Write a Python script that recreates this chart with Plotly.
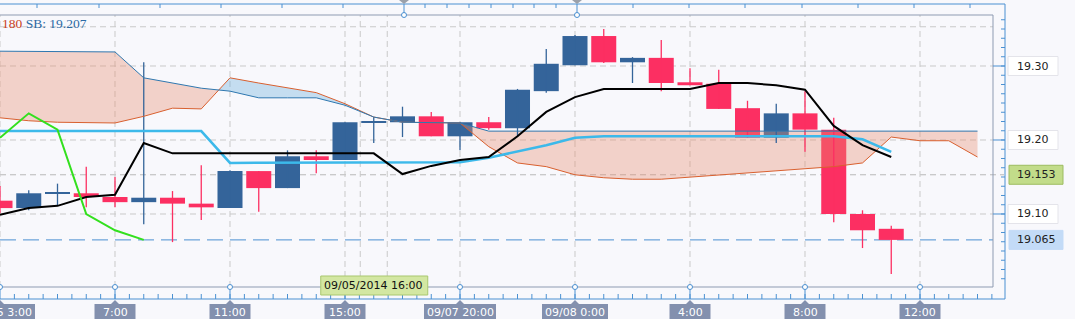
import plotly.graph_objects as go

# ---------------- data (hourly candles, index 0 = 09/05 3:00) ----------------
candle_idx = list(range(32))
open_ = [19.118, 19.108, 19.128, 19.128, 19.123, 19.116, 19.122, 19.114, 19.108, 19.158,
         19.135, 19.178, 19.173, 19.224, 19.224, 19.232, 19.205, 19.224, 19.216, 19.266,
         19.301, 19.3405, 19.305, 19.311, 19.278, 19.276, 19.243, 19.203, 19.236, 19.214,
         19.100, 19.080]
high = [19.138, 19.132, 19.141, 19.164, 19.150, 19.305, 19.131, 19.166, 19.159, 19.158,
        19.186, 19.186, 19.224, 19.231, 19.245, 19.238, 19.224, 19.231, 19.269, 19.323,
        19.342, 19.350, 19.312, 19.335, 19.297, 19.295, 19.253, 19.249, 19.266, 19.230,
        19.105, 19.084]
low = [19.101, 19.105, 19.112, 19.109, 19.109, 19.086, 19.062, 19.092, 19.108, 19.103,
       19.135, 19.155, 19.173, 19.196, 19.204, 19.205, 19.186, 19.214, 19.204, 19.264,
       19.301, 19.304, 19.277, 19.266, 19.274, 19.242, 19.203, 19.196, 19.184, 19.089,
       19.054, 19.019]
close = [19.108, 19.128, 19.128, 19.123, 19.116, 19.122, 19.114, 19.109, 19.158, 19.135,
         19.178, 19.173, 19.224, 19.224, 19.232, 19.205, 19.224, 19.216, 19.268, 19.303,
         19.3405, 19.305, 19.311, 19.277, 19.274, 19.242, 19.203, 19.236, 19.214, 19.100,
         19.078, 19.065]

tenkan = [19.099, 19.108, 19.111, 19.123, 19.126, 19.196, 19.182, 19.182, 19.182, 19.182,
          19.182, 19.182, 19.182, 19.182, 19.154, 19.165, 19.173, 19.177, 19.205, 19.238,
          19.258, 19.269, 19.269, 19.269, 19.269, 19.277, 19.277, 19.274, 19.268, 19.219,
          19.193, 19.177]
kijun = [19.212, 19.212, 19.212, 19.212, 19.212, 19.212, 19.212, 19.212, 19.169, 19.169,
         19.169, 19.169, 19.169, 19.169, 19.169, 19.169, 19.170, 19.176, 19.184, 19.193,
         19.203, 19.205, 19.205, 19.205, 19.205, 19.205, 19.205, 19.205, 19.205, 19.205,
         19.201, 19.184]
chikou_idx = [0, 1, 2, 3, 4, 5]
chikou = [19.203, 19.236, 19.214, 19.100, 19.078, 19.065]

cloud_idx = list(range(35))
senkou_a = [19.230, 19.226, 19.224, 19.223, 19.223, 19.232, 19.243, 19.242, 19.284, 19.277,
            19.270, 19.264, 19.249, 19.231, 19.224, 19.223, 19.223, 19.191, 19.169, 19.164,
            19.153, 19.149, 19.147, 19.147, 19.150, 19.153, 19.155, 19.158, 19.161, 19.164,
            19.169, 19.204, 19.199, 19.199, 19.177]
senkou_b = [19.320, 19.320, 19.320, 19.320, 19.319, 19.284, 19.277, 19.270, 19.266, 19.257,
            19.257, 19.257, 19.247, 19.231, 19.224, 19.223, 19.223, 19.212, 19.212, 19.212,
            19.212, 19.212, 19.212, 19.212, 19.212, 19.212, 19.212, 19.212, 19.212, 19.212,
            19.212, 19.212, 19.212, 19.212, 19.212]

time_labels = ["09/05 3:00", "7:00", "11:00", "15:00", "09/07 20:00", "09/08 0:00", "4:00", "8:00", "12:00"]
time_label_idx = [0, 4, 8, 12, 16, 20, 24, 28, 32]
price_ticks = [19.30, 19.20, 19.10]
price_tick_text = ["19.30", "19.20", "19.10"]
extra_grid_price = 19.353
marker_price = 19.153
last_price = 19.065
crosshair_idx = 13
tooltip_text = "09/05/2014 16:00"
legend_sa_text = "180"
legend_sb_text = "SB: 19.207"

# ---------------- geometry ----------------
W, H = 1075, 319
PX_L, PX_R, PY_T, PY_B = 0, 993, 15, 287
Y_MIN, Y_MAX = 19.00135, 19.36892
X_MIN, X_MAX = 0, 993 / 28.75


def px(x):
    return x / W


def py(y):
    return 1 - y / H


def ypix(price):
    return PY_T + (Y_MAX - price) / (Y_MAX - Y_MIN) * (PY_B - PY_T)


def xpix(i):
    return PX_L + (i - X_MIN) / (X_MAX - X_MIN) * (PX_R - PX_L)


BLUE = "#34649a"
RED = "#fc2f62"
GRID = "#c9c9c9"
AXBLUE = "#4a90d2"
FRAME = "#8e9bb2"
BG = "#f8f8fc"

fig = go.Figure()

# ---------------- cloud fill ----------------
pts = []
n = len(cloud_idx)
for i in range(n - 1):
    a0, b0, a1, b1 = senkou_a[i], senkou_b[i], senkou_a[i + 1], senkou_b[i + 1]
    pts.append((cloud_idx[i], a0, b0))
    d0, d1 = a0 - b0, a1 - b1
    if d0 * d1 < 0:
        t = d0 / (d0 - d1)
        xc = cloud_idx[i] + t * (cloud_idx[i + 1] - cloud_idx[i])
        yc = a0 + t * (a1 - a0)
        pts.append((xc, yc, yc))
pts.append((cloud_idx[-1], senkou_a[-1], senkou_b[-1]))

runs = []
cur = None
for k in range(len(pts) - 1):
    s = (pts[k][1] - pts[k][2]) + (pts[k + 1][1] - pts[k + 1][2])
    sign = 1 if s > 0 else -1
    if cur is None or cur[0] != sign:
        cur = [sign, [pts[k], pts[k + 1]]]
        runs.append(cur)
    else:
        cur[1].append(pts[k + 1])

for sign, seg in runs:
    xs = [p[0] for p in seg] + [p[0] for p in reversed(seg)]
    ys = [p[1] for p in seg] + [p[2] for p in reversed(seg)]
    fig.add_trace(go.Scatter(
        x=xs, y=ys, mode="lines", fill="toself", line=dict(width=0),
        fillcolor="rgba(110,175,220,0.38)" if sign > 0 else "rgba(232,140,110,0.36)",
        hoverinfo="skip"))

# ---------------- candles ----------------
for up, col in ((True, BLUE), (False, RED)):
    wx, wy = [], []
    bx, bbase, bh = [], [], []
    for i in range(len(candle_idx)):
        is_up = close[i] >= open_[i]
        if is_up != up:
            continue
        wx += [candle_idx[i], candle_idx[i], None]
        wy += [low[i], high[i], None]
        lo = min(open_[i], close[i])
        hgt = abs(close[i] - open_[i])
        if hgt < 0.0016:
            lo -= (0.0016 - hgt) / 2
            hgt = 0.0016
        bx.append(candle_idx[i])
        bbase.append(lo)
        bh.append(hgt)
    fig.add_trace(go.Scatter(x=wx, y=wy, mode="lines", line=dict(color=col, width=1.3),
                             hoverinfo="skip"))
    fig.add_trace(go.Bar(x=bx, y=bh, base=bbase, width=0.87, marker=dict(color=col, line=dict(width=0)),
                         hoverinfo="skip"))

# ---------------- ichimoku lines ----------------
fig.add_trace(go.Scatter(x=cloud_idx, y=senkou_a, mode="lines", line=dict(color="#d9602f", width=1)))
fig.add_trace(go.Scatter(x=cloud_idx, y=senkou_b, mode="lines", line=dict(color="#2f78b0", width=1)))
fig.add_trace(go.Scatter(x=candle_idx, y=kijun, mode="lines", line=dict(color="#3cb9ea", width=2.5)))
fig.add_trace(go.Scatter(x=candle_idx, y=tenkan, mode="lines", line=dict(color="#000000", width=2)))
fig.add_trace(go.Scatter(x=chikou_idx, y=chikou, mode="lines", line=dict(color="#33e01e", width=2)))

# ---------------- shapes ----------------
shapes = []
# horizontal grid
for p in price_ticks + [extra_grid_price]:
    shapes.append(dict(type="line", xref="paper", yref="y", x0=px(PX_L), x1=px(PX_R), y0=p, y1=p,
                       line=dict(color=GRID, width=1, dash="6px,4px"), layer="below"))
shapes.append(dict(type="line", xref="paper", yref="y", x0=px(PX_L), x1=px(1004), y0=marker_price, y1=marker_price,
                   line=dict(color="#b8b8b8", width=1, dash="6px,4px"), layer="below"))
shapes.append(dict(type="line", xref="paper", yref="y", x0=px(PX_L), x1=px(PX_R), y0=last_price, y1=last_price,
                   line=dict(color=AXBLUE, width=1, dash="16px,7px"), layer="below"))
# vertical grid
for i in time_label_idx + [crosshair_idx - 0.47, crosshair_idx + 0.47]:
    shapes.append(dict(type="line", xref="x", yref="paper", x0=i, x1=i, y0=py(PY_B), y1=py(PY_T),
                       line=dict(color=GRID, width=1, dash="6px,4px"), layer="below"))
# plot frame
shapes.append(dict(type="line", xref="paper", yref="paper", x0=0, x1=px(PX_R), y0=py(PY_T), y1=py(PY_T),
                   line=dict(color=FRAME, width=1)))
shapes.append(dict(type="line", xref="paper", yref="paper", x0=0, x1=px(PX_R), y0=py(PY_B), y1=py(PY_B),
                   line=dict(color=FRAME, width=1)))
shapes.append(dict(type="line", xref="paper", yref="paper", x0=px(PX_R), x1=px(PX_R), y0=py(PY_B), y1=py(PY_T),
                   line=dict(color=FRAME, width=1)))
# outer blue axis frame
shapes.append(dict(type="line", xref="paper", yref="paper", x0=0, x1=px(1005), y0=py(4), y1=py(4),
                   line=dict(color=AXBLUE, width=1)))
shapes.append(dict(type="line", xref="paper", yref="paper", x0=0, x1=px(1005), y0=py(299), y1=py(299),
                   line=dict(color=AXBLUE, width=1)))
shapes.append(dict(type="line", xref="paper", yref="paper", x0=px(1005), x1=px(1005), y0=py(299), y1=py(4),
                   line=dict(color=AXBLUE, width=1)))
# top navigator ticks
for tx in [37, 99, 160, 221, 282, 343, 425, 447, 469, 491, 513, 534, 556, 633, 689, 745, 802, 858, 914, 970]:
    shapes.append(dict(type="line", xref="paper", yref="paper", x0=px(tx), x1=px(tx), y0=py(4), y1=py(8),
                       line=dict(color=AXBLUE, width=1)))
for tx in [404, 577]:
    shapes.append(dict(type="line", xref="paper", yref="paper", x0=px(tx), x1=px(tx), y0=py(4), y1=py(15),
                       line=dict(color=AXBLUE, width=1)))
    shapes.append(dict(type="path", xref="paper", yref="paper",
                       path=f"M {px(tx-5)} {py(0)} L {px(tx+5)} {py(0)} L {px(tx)} {py(4)} Z",
                       fillcolor="#9aa0aa", line=dict(width=0)))
    shapes.append(dict(type="circle", xref="paper", yref="paper", x0=px(tx - 2.5), x1=px(tx + 2.5),
                       y0=py(17.5), y1=py(12.5), fillcolor="white", line=dict(color=AXBLUE, width=1)))
# bottom minor ticks (every half hour)
k = 0.5
while k < X_MAX:
    xx = xpix(k)
    shapes.append(dict(type="line", xref="paper", yref="paper", x0=px(xx), x1=px(xx), y0=py(299), y1=py(294),
                       line=dict(color=AXBLUE, width=1)))
    k += 0.5
# bottom major ticks, circles, label boxes
for i, lab in zip(time_label_idx, time_labels):
    xx = xpix(i)
    shapes.append(dict(type="line", xref="paper", yref="paper", x0=px(xx), x1=px(xx), y0=py(299), y1=py(287),
                       line=dict(color=AXBLUE, width=1)))
    shapes.append(dict(type="circle", xref="paper", yref="paper", x0=px(xx - 2.5), x1=px(xx + 2.5),
                       y0=py(289.5), y1=py(284.5), fillcolor="white", line=dict(color=AXBLUE, width=1)))
    bw = max(41, 6 * len(lab) + 6)
    cx = xx if xx > 10 else xx + 2
    shapes.append(dict(type="rect", xref="paper", yref="paper", x0=px(cx - bw / 2), x1=px(cx + bw / 2),
                       y0=py(330), y1=py(304), fillcolor="#8390ae", line=dict(width=0)))
    shapes.append(dict(type="path", xref="paper", yref="paper",
                       path=f"M {px(xx-4)} {py(304)} L {px(xx+4)} {py(304)} L {px(xx)} {py(300)} Z",
                       fillcolor="#8390ae", line=dict(width=0)))
# right axis ticks
p = 19.0125
while p < Y_MAX:
    yy = ypix(p)
    if yy > 6:
        shapes.append(dict(type="line", xref="paper", yref="paper", x0=px(1001), x1=px(1005), y0=py(yy), y1=py(yy),
                           line=dict(color=AXBLUE, width=1)))
    p += 0.0125
for pt in price_ticks:
    yy = ypix(pt)
    shapes.append(dict(type="line", xref="paper", yref="paper", x0=px(PX_R), x1=px(1005), y0=py(yy), y1=py(yy),
                       line=dict(color=AXBLUE, width=1)))

annotations = []
# right price labels
FONT = "DejaVu Sans"
for pt, txt in zip(price_ticks, price_tick_text):
    yy = ypix(pt)
    shapes.append(dict(type="rect", xref="paper", yref="paper", x0=px(1008), x1=px(1058), y0=py(yy + 9.5),
                       y1=py(yy - 9.5), fillcolor="white", line=dict(color="#e4e4ea", width=1)))
    annotations.append(dict(x=px(1033), y=py(yy), xref="paper", yref="paper", text=txt, showarrow=False,
                            font=dict(family=FONT, size=11, color="#222222"), xanchor="center", yanchor="middle"))
for pt, fillc, linec in ((marker_price, "#c2dc8a", "#9cbc60"), (last_price, "#c3dbf7", "#c3dbf7")):
    yy = ypix(pt)
    shapes.append(dict(type="rect", xref="paper", yref="paper", x0=px(1009), x1=px(1063), y0=py(yy + 9.5),
                       y1=py(yy - 9.5), fillcolor=fillc, line=dict(color=linec, width=1)))
    annotations.append(dict(x=px(1036), y=py(yy), xref="paper", yref="paper", text=f"{pt:.3f}", showarrow=False,
                            font=dict(family=FONT, size=11, color="#222222"), xanchor="center", yanchor="middle"))
# bottom time labels
for i, lab in zip(time_label_idx, time_labels):
    xx = xpix(i)
    cx = xx if xx > 10 else xx + 2
    annotations.append(dict(x=px(cx), y=py(312), xref="paper", yref="paper", text=lab, showarrow=False,
                            font=dict(family=FONT, size=11, color="white"), xanchor="center", yanchor="middle"))
# tooltip
tx = xpix(crosshair_idx)
shapes.append(dict(type="rect", xref="paper", yref="paper", x0=px(tx - 53), x1=px(tx + 54), y0=py(295),
                   y1=py(276), fillcolor="#d3e7a2", line=dict(color="#a9c76e", width=1)))
annotations.append(dict(x=px(tx), y=py(285.5), xref="paper", yref="paper", text=tooltip_text, showarrow=False,
                        font=dict(family=FONT, size=11, color="#111111"), xanchor="center", yanchor="middle"))
# legend text
annotations.append(dict(x=0, y=py(23), xref="paper", yref="paper", xanchor="left", yanchor="middle",
                        showarrow=False,
                        text=f"<span style='color:#c9421c'>{legend_sa_text}</span> "
                             f"<span style='color:#2c6aa4'>{legend_sb_text}</span>",
                        font=dict(family="Liberation Serif", size=13.5)))

fig.update_layout(
    width=W, height=H, margin=dict(l=0, r=0, t=0, b=0),
    paper_bgcolor=BG, plot_bgcolor=BG, showlegend=False, barmode="overlay", hovermode=False,
    xaxis=dict(domain=[px(PX_L), px(PX_R)], range=[X_MIN, X_MAX], showgrid=False, zeroline=False,
               showticklabels=False, ticks="", fixedrange=True),
    yaxis=dict(domain=[py(PY_B), py(PY_T)], range=[Y_MIN, Y_MAX], showgrid=False, zeroline=False,
               showticklabels=False, ticks="", fixedrange=True),
    shapes=shapes, annotations=annotations,
)

fig.write_html("out.html")
